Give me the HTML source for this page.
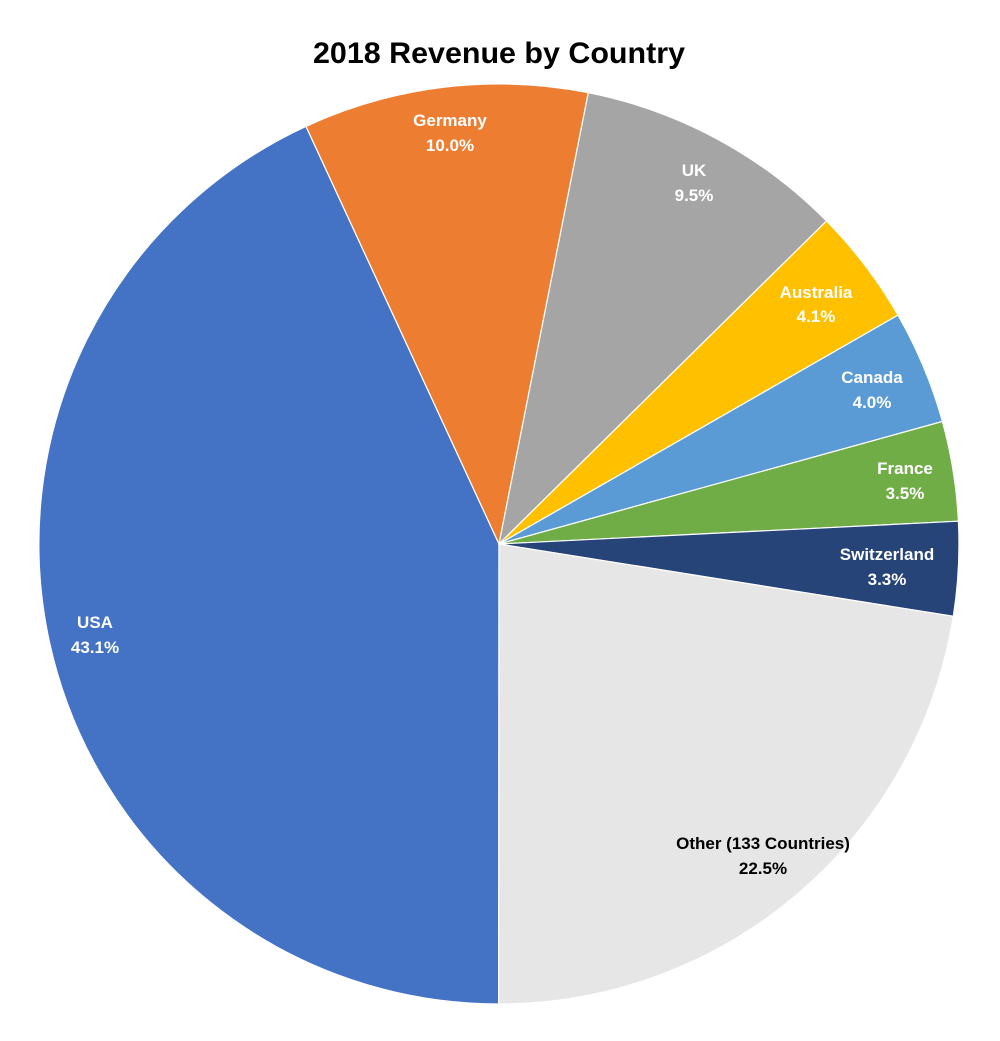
<!DOCTYPE html>
<html><head><meta charset="utf-8"><style>
html,body{margin:0;padding:0;background:#fff;}
svg{display:block;}
text{font-family:"Liberation Sans",sans-serif;font-weight:bold;}
</style></head><body>
<svg width="1000" height="1041" viewBox="0 0 1000 1041">
<text x="499" y="63" text-anchor="middle" font-size="30" fill="#000" textLength="372" lengthAdjust="spacingAndGlyphs">2018 Revenue by Country</text>
<g stroke="#fff" stroke-width="1.2">
<path d="M499,544 L498.7,1004 A460,460 0 0 1 306.0,126.4 Z" fill="#4472C4"/>
<path d="M499,544 L306.0,126.4 A460,460 0 0 1 588.3,92.7 Z" fill="#ED7D31"/>
<path d="M499,544 L588.3,92.7 A460,460 0 0 1 826.5,221.0 Z" fill="#A5A5A5"/>
<path d="M499,544 L826.5,221.0 A460,460 0 0 1 898.0,315.1 Z" fill="#FFC000"/>
<path d="M499,544 L898.0,315.1 A460,460 0 0 1 942.4,421.5 Z" fill="#5B9BD5"/>
<path d="M499,544 L942.4,421.5 A460,460 0 0 1 958.4,521.2 Z" fill="#70AD47"/>
<path d="M499,544 L958.4,521.2 A460,460 0 0 1 953.3,616.3 Z" fill="#264478"/>
<path d="M499,544 L953.3,616.3 A460,460 0 0 1 498.7,1004 Z" fill="#E7E6E6"/>
</g>
<g font-size="17" fill="#fff" text-anchor="middle">
<text x="450" y="126">Germany</text><text x="450" y="151">10.0%</text>
<text x="694" y="176">UK</text><text x="694" y="201">9.5%</text>
<text x="816" y="298">Australia</text><text x="816" y="322">4.1%</text>
<text x="872" y="383">Canada</text><text x="872" y="408">4.0%</text>
<text x="905" y="474">France</text><text x="905" y="499">3.5%</text>
<text x="887" y="560">Switzerland</text><text x="887" y="585">3.3%</text>
<text x="95" y="628">USA</text><text x="95" y="653">43.1%</text>
<text x="763" y="849" fill="#000">Other (133 Countries)</text><text x="763" y="874" fill="#000">22.5%</text>
</g>
</svg>
</body></html>
